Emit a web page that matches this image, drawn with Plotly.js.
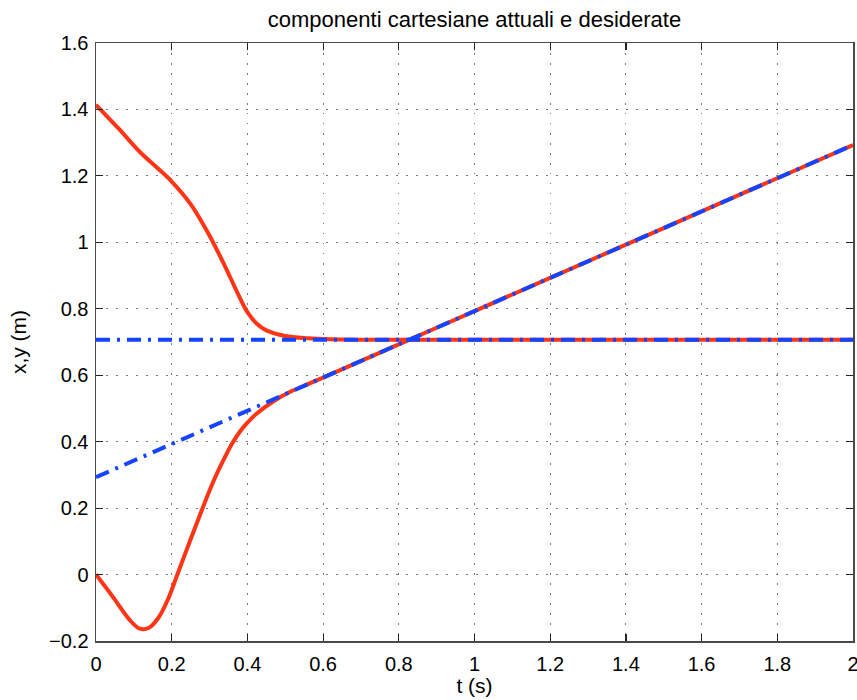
<!DOCTYPE html>
<html>
<head>
<meta charset="utf-8">
<script src="https://cdn.plot.ly/plotly-3.0.1.min.js"></script>
<style>
  html, body { margin: 0; padding: 0; background: #fff; }
  #chart { width: 857px; height: 700px; }
</style>
</head>
<body>
<div id="chart"></div>
<script>
// Componente che converge al valore costante
const tActualA = [0, 0.06, 0.116, 0.16, 0.2, 0.25, 0.3, 0.34, 0.375, 0.4, 0.425, 0.45, 0.5, 0.56, 0.62, 0.7, 0.8, 1.0, 1.2, 1.4, 1.6, 1.8, 2.0];
const yActualA = [1.414, 1.342, 1.272, 1.226, 1.183, 1.115, 1.020, 0.930, 0.845, 0.790, 0.755, 0.735, 0.718, 0.711, 0.708, 0.707, 0.707, 0.707, 0.707, 0.707, 0.707, 0.707, 0.707];

// Componente che converge alla rampa
const tActualB = [0, 0.045, 0.09, 0.116, 0.14, 0.165, 0.19, 0.213, 0.248, 0.28, 0.31, 0.337, 0.36, 0.38, 0.4, 0.424, 0.468, 0.513, 0.56, 0.6, 0.8, 1.0, 1.2, 1.4, 1.6, 1.8, 2.0];
const yActualB = [0, -0.068, -0.138, -0.163, -0.160, -0.130, -0.075, -0.006, 0.100, 0.195, 0.280, 0.345, 0.395, 0.430, 0.457, 0.484, 0.521, 0.550, 0.573, 0.593, 0.693, 0.793, 0.893, 0.993, 1.093, 1.193, 1.293];

// Riferimenti desiderati
const tDesired = [0, 2];
const yDesiredA = [0.707, 0.707];
const yDesiredB = [0.293, 1.293];

const xTicks = [0, 0.2, 0.4, 0.6, 0.8, 1, 1.2, 1.4, 1.6, 1.8, 2];
const xTickLabels = ['0', '0.2', '0.4', '0.6', '0.8', '1', '1.2', '1.4', '1.6', '1.8', '2'];
const yTicks = [-0.2, 0, 0.2, 0.4, 0.6, 0.8, 1, 1.2, 1.4, 1.6];
const yTickLabels = ['\u22120.2', '0', '0.2', '0.4', '0.6', '0.8', '1', '1.2', '1.4', '1.6'];

const RED = '#ff3516';
const BLUE = '#1444ff';
const BLUE_DASH = '14px,7px,3px,7px';

const traces = [
  { x: tActualA, y: yActualA, mode: 'lines', line: { color: RED, width: 4, shape: 'spline', smoothing: 1 } },
  { x: tActualB, y: yActualB, mode: 'lines', line: { color: RED, width: 4, shape: 'spline', smoothing: 1 } },
  { x: tDesired, y: yDesiredA, mode: 'lines', line: { color: BLUE, width: 4, dash: BLUE_DASH } },
  { x: tDesired, y: yDesiredB, mode: 'lines', line: { color: BLUE, width: 4, dash: BLUE_DASH } }
];

const FONT = '"Liberation Sans", Arial, Helvetica, sans-serif';

const axisCommon = {
  showline: true,
  linecolor: '#4a4a4a',
  linewidth: 1.5,
  mirror: 'allticks',
  ticks: 'inside',
  ticklen: 7,
  tickwidth: 1.2,
  tickcolor: '#222',
  showgrid: true,
  gridcolor: '#7a7a7a',
  gridwidth: 1,
  griddash: '1.5px,8.5px',
  zeroline: false,
  tickfont: { family: FONT, size: 20, color: '#000' },
  ticklabeloverflow: 'allow',
  tickmode: 'array'
};

const layout = {
  width: 857,
  height: 700,
  margin: { l: 96, r: 4, t: 43, b: 59 },
  paper_bgcolor: '#fff',
  plot_bgcolor: '#fff',
  showlegend: false,
  font: { family: FONT, color: '#000' },
  title: {
    text: 'componenti cartesiane attuali e desiderate',
    font: { family: FONT, size: 22, color: '#000' },
    x: 0.5, xref: 'paper', xanchor: 'center',
    y: 0.972, yref: 'container', yanchor: 'middle'
  },
  xaxis: Object.assign({}, axisCommon, {
    range: [0, 2],
    tickvals: xTicks,
    ticktext: xTickLabels,
    ticklabelstandoff: 4,
    title: { text: 't (s)', font: { family: FONT, size: 21, color: '#000' }, standoff: 1 }
  }),
  yaxis: Object.assign({}, axisCommon, {
    range: [-0.2, 1.6],
    tickvals: yTicks,
    ticktext: yTickLabels,
    ticklabelstandoff: 2,
    title: { text: 'x,y (m)', font: { family: FONT, size: 21, color: '#000' }, standoff: 16 }
  })
};

Plotly.newPlot('chart', traces, layout, { displayModeBar: false, staticPlot: true });
</script>
</body>
</html>
